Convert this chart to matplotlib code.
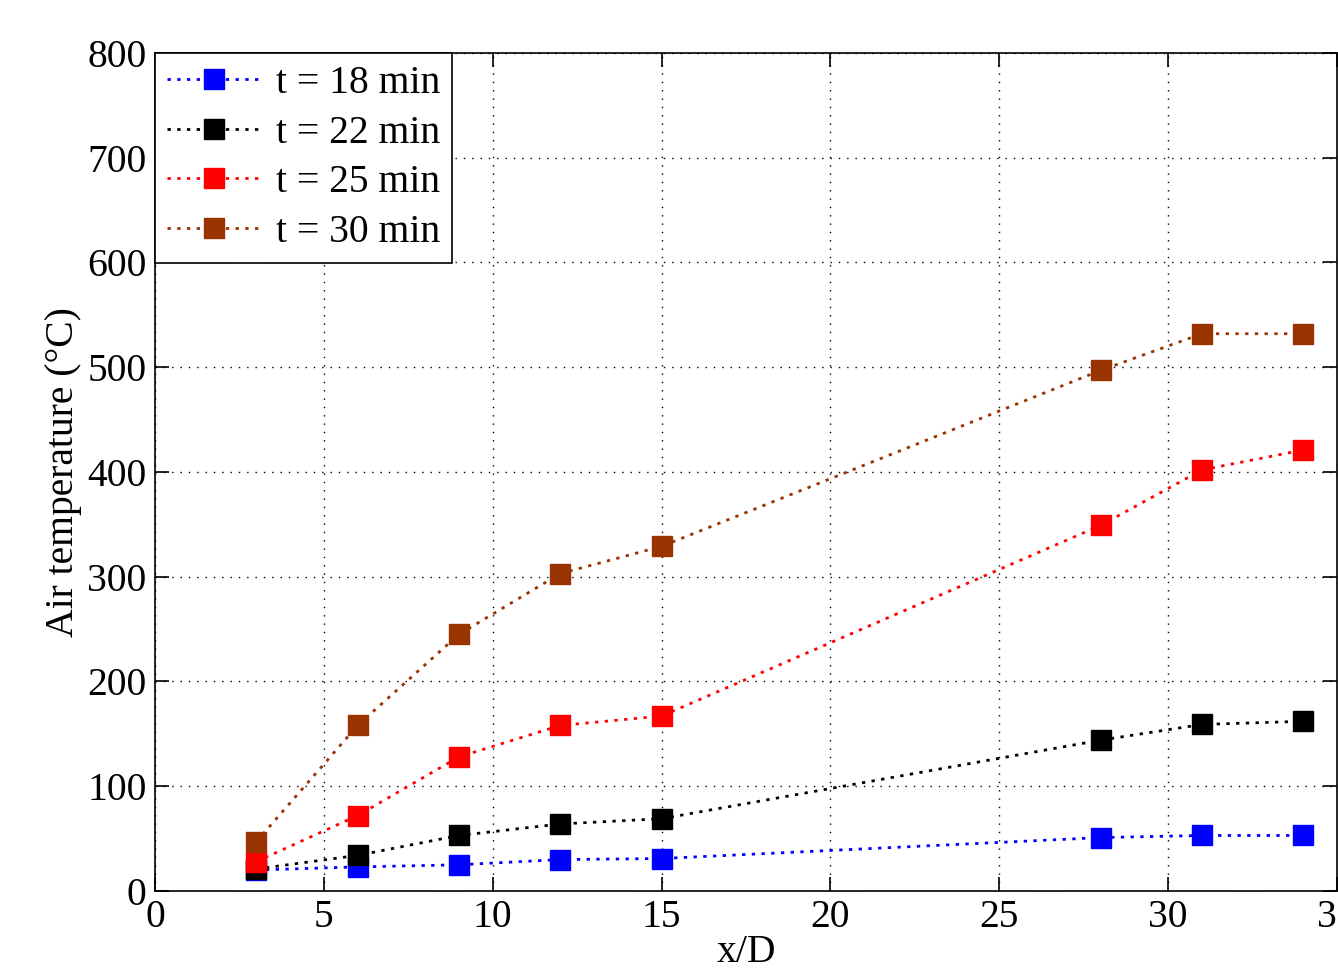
import matplotlib.pyplot as plt

plt.rcParams['font.family'] = ['Liberation Serif', 'DejaVu Serif']

# Data
x_d = [3, 6, 9, 12, 15, 28, 31, 34]
t18 = [20, 23, 25, 30, 31, 51, 53, 53]
t22 = [21, 34, 53, 64, 69, 144, 159, 162]
t25 = [28, 72, 128, 158, 167, 349, 402, 421]
t30 = [47, 158, 245, 303, 329, 497, 532, 532]

series = [
    (t18, '#0000ff', 't = 18 min'),
    (t22, '#000000', 't = 22 min'),
    (t25, '#ff0000', 't = 25 min'),
    (t30, '#993300', 't = 30 min'),
]

fs = 28.5

fig = plt.figure(figsize=(13.38, 9.76), dpi=100)
ax = fig.add_axes([0.1158, 0.0871, 0.8835, 0.8586])

for vals, col, lab in series:
    ax.plot(x_d, vals, color=col, linestyle=(0, (1.2, 2.3)), linewidth=2,
            marker='s', markersize=14, markerfacecolor=col,
            markeredgecolor=col, markeredgewidth=1, label=lab)

ax.set_xlim(0, 35)
ax.set_ylim(0, 800)
ax.set_xticks(range(0, 36, 5))
ax.set_yticks(range(0, 801, 100))
ax.tick_params(direction='in', length=10, width=1.2, top=True, right=True,
               labelsize=fs, pad=6)
ax.grid(True, color='black', linestyle=(0, (1, 5)), linewidth=1)
for s in ax.spines.values():
    s.set_linewidth(1.2)

ax.set_xlabel('x/D', fontsize=fs, labelpad=-2)
ax.set_ylabel('Air temperature (°C)', fontsize=fs, labelpad=4)

leg = ax.legend(loc='upper left', fontsize=fs, numpoints=1, fancybox=False,
                framealpha=1, edgecolor='black', handlelength=2.4,
                borderaxespad=0, labelspacing=0.32, handletextpad=0.35,
                borderpad=0.3)
leg.get_frame().set_linewidth(1.2)

fig.savefig('out.png', dpi=100)
